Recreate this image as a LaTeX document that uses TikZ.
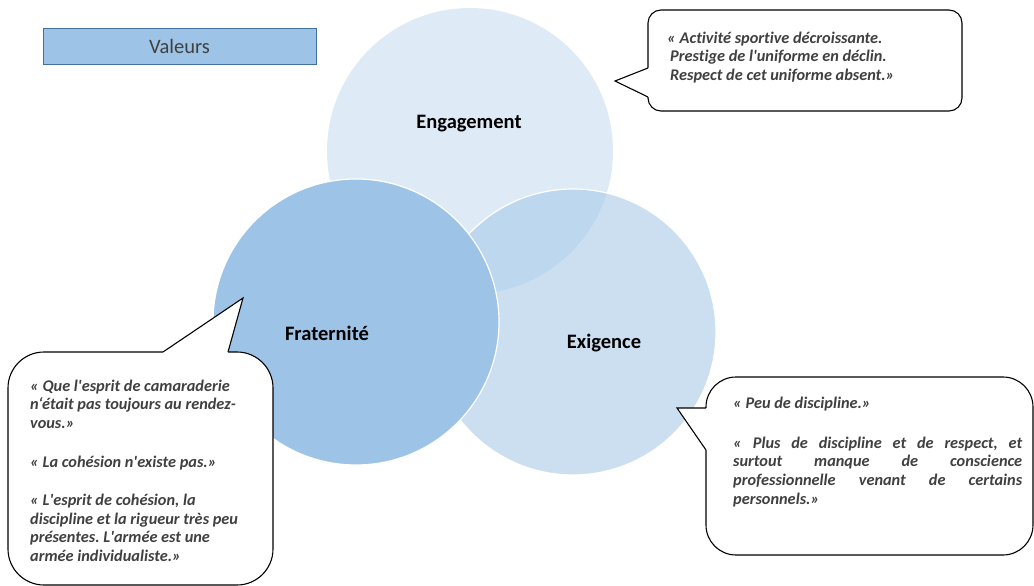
\documentclass[tikz,border=0pt]{standalone}
\usepackage{fontspec}
\setmainfont{Carlito}[Ligatures={TeXOff,NoCommon}]
\usetikzlibrary{calc}
\frenchspacing

\definecolor{engagementBlue}{HTML}{DEEBF7}
\definecolor{exigenceBlue}{HTML}{CCDFF1}
\definecolor{overlapBlue}{HTML}{BDD7EE}
\definecolor{fraterniteBlue}{HTML}{9DC3E6}
\definecolor{boxBorder}{HTML}{41719C}
\definecolor{quoteGray}{HTML}{404040}

\begin{document}
\begin{tikzpicture}[x=1pt, y=-1pt,
    bubble/.style={draw=black, fill=white, line width=1.1pt},
    quote/.style={anchor=north west, inner sep=0pt, text=quoteGray, align=left,
        font=\fontsize{16.3}{18.6}\selectfont\bfseries\itshape},
    valuename/.style={font=\fontsize{20.5}{24}\selectfont\bfseries, text=black}]

    \useasboundingbox (0,0) rectangle (1034,586);

    % circle centres
    \coordinate (Eng) at (470,151);
    \coordinate (Exi) at (573,332);
    \coordinate (Fra) at (356,322);

    % draw the circles
    \fill[engagementBlue] (Eng) circle [radius=143pt];
    \fill[exigenceBlue] (Exi) circle [radius=143pt];
    \begin{scope}
        \clip (Eng) circle [radius=143pt];
        \fill[overlapBlue] (Exi) circle [radius=143pt];
    \end{scope}
    \draw[white, line width=1.2pt] (Exi) circle [radius=143pt];
    \filldraw[fill=fraterniteBlue, draw=white, line width=1.2pt] (Fra) circle [radius=143pt];

    % circle names
    \node[valuename] (engagement) at (469,124) {Engagement};
    \node[valuename] (fraternite) at (327,333) {Fraternité};
    \node[valuename] (exigence) at (604,343) {Exigence};

    % title box
    \node[draw=boxBorder, fill=fraterniteBlue, line width=0.8pt, minimum width=273pt,
        minimum height=36pt, inner sep=0pt, text=quoteGray,
        font=\fontsize{20.5}{24}\selectfont] (valeurs) at (179.5,46) {Valeurs};

    % top right bubble
    \draw[bubble, rounded corners=13pt] (648,10) rectangle (962,111);
    \fill[white] (648,68) -- (615,81) -- (648,97) -- (650,97) -- (650,68) -- cycle;
    \draw[line width=1.1pt] (648,68) -- (615,81) -- (648,97);

    % bottom left bubble
    \draw[bubble, rounded corners=36pt] (8,352) rectangle (273,585);
    \fill[white] (163,352) -- (243,298) -- (228,352) -- (228,354) -- (163,354) -- cycle;
    \draw[line width=1.1pt] (163,352) -- (243,298) -- (228,352);

    % bottom right bubble
    \draw[bubble, rounded corners=30pt] (706,377) rectangle (1033,555);
    \fill[white] (706,408) -- (677,408) -- (706,450) -- (708,450) -- (708,408) -- cycle;
    \draw[line width=1.1pt] (706,408) -- (677,408) -- (706,450);

    % quotes
    \node[quote] (quoteEng) at (667,31.5) {« Activité sportive décroissante.\\
        \hspace*{3pt}Prestige de l'uniforme en déclin.\\
        \hspace*{3pt}Respect de cet uniforme absent.»};
    \node[quote] (quoteFra) at (30,379.5) {« Que l'esprit de camaraderie\\
        n‘était pas toujours au rendez-\\
        vous.»\\[21pt]
        « La cohésion n'existe pas.»\\[19pt]
        « L'esprit de cohésion, la\\
        discipline et la rigueur très peu\\
        présentes. L'armée est une\\
        armée individualiste.»};
    \node[quote, text width=289pt, align=justify] (quoteExi) at (733,397) {« Peu de discipline.»\\[21pt]
        « Plus de discipline et de respect, et\linebreak
        surtout manque de conscience\linebreak
        professionnelle venant de certains\linebreak
        personnels.»};

\end{tikzpicture}
\end{document}
